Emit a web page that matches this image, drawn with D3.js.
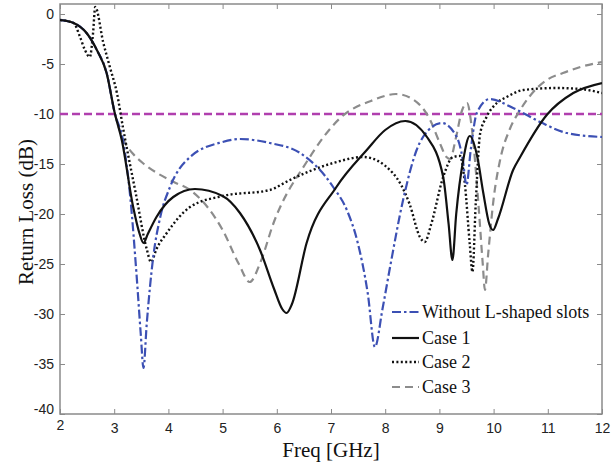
<!DOCTYPE html>
<html><head><meta charset="utf-8">
<script src="https://cdn.jsdelivr.net/npm/d3@7"></script>
<style>body{margin:0;background:#fff}</style>
</head><body><svg id="c" width="612" height="463"></svg>
<script>
const xTicks = [2,3,4,5,6,7,8,9,10,11,12];
const yTicks = [0,-5,-10,-15,-20,-25,-30,-35,-40];
const seriesNames = ["Without L-shaped slots","Case 1","Case 2","Case 3"];
const threshold = -10;

const blueF = [2,2.25,2.49,2.68,2.86,3.01,3.16,3.3,3.41,3.49,3.54,3.6,3.72,3.85,4.03,4.4,5.0,5.32,5.87,6.43,7.04,7.3,7.48,7.68,7.81,7.95,8.09,8.33,8.58,8.8,9.04,9.32,9.43,9.5,9.58,9.69,9.93,10.36,10.86,11.35,12];
const blueV = [-0.6,-0.9,-1.9,-3.6,-5.9,-9.9,-12.6,-18.5,-25.9,-32,-35.4,-31,-24.3,-20.3,-17.3,-14.3,-12.8,-12.5,-12.9,-13.9,-17.3,-19.7,-22.6,-28,-33.3,-29.5,-25.3,-18.6,-13.6,-11.6,-10.9,-12.3,-14.5,-17.1,-13.5,-9.9,-8.5,-9.4,-10.8,-11.9,-12.3];

const case1F = [2,2.25,2.49,2.68,2.86,3.01,3.14,3.35,3.47,3.54,3.62,3.78,4.09,4.49,5.0,5.32,5.69,5.95,6.1,6.18,6.28,6.55,7.1,7.66,8.0,8.37,8.77,9.07,9.17,9.24,9.31,9.44,9.56,9.7,9.81,9.92,9.99,10.08,10.36,10.49,10.98,11.47,12];
const case1V = [-0.6,-0.9,-1.9,-3.6,-5.9,-9.9,-12.6,-19.3,-22,-22.9,-22,-20.3,-18.3,-17.5,-18.2,-19.9,-23.6,-27.5,-29.5,-29.9,-29,-22.9,-17.3,-13.6,-11.6,-10.7,-12.3,-16.3,-21,-24.6,-20,-14.6,-12.2,-14.3,-17.9,-21,-21.6,-20.5,-15.6,-14.3,-10.1,-7.9,-6.9];

const case2F = [2,2.25,2.37,2.46,2.55,2.61,2.65,2.8,2.92,3.05,3.16,3.4,3.6,3.68,3.78,3.97,4.4,5.0,5.87,6.24,7.04,7.6,8.14,8.45,8.64,8.73,8.85,9.07,9.25,9.38,9.47,9.56,9.61,9.67,9.75,9.87,10.06,10.24,10.55,11.16,11.6,12];
const case2V = [-0.6,-0.9,-2.3,-3.6,-4.3,-1.9,0.7,-2.9,-5.3,-7.9,-11.3,-18,-23.5,-24.8,-23.5,-21.9,-19.3,-18.2,-17.6,-16.6,-14.9,-14.3,-15.9,-19,-22.3,-22.8,-21,-16.3,-14.3,-14.2,-17,-23,-25.8,-19,-12,-10.3,-8.9,-8.3,-7.6,-7.4,-7.5,-7.9];

const case3F = [2,2.25,2.49,2.68,2.86,3.01,3.1,3.2,3.35,3.55,3.79,4.1,4.4,5.0,5.3,5.5,5.7,5.94,6.55,7.17,7.78,8.2,8.5,8.83,9.0,9.13,9.2,9.3,9.42,9.51,9.6,9.72,9.8,9.84,9.9,10.0,10.12,10.3,10.49,10.67,10.98,11.28,11.6,12];
const case3V = [-0.6,-0.9,-1.9,-3.6,-5.9,-9.9,-11.6,-12.9,-14.0,-15.0,-15.9,-16.8,-17.6,-21.6,-25,-26.8,-24.8,-20.9,-14.8,-10.4,-8.6,-8.0,-8.5,-10.6,-12.8,-14.3,-14.5,-12.5,-9.6,-8.9,-11.5,-19,-25,-27.6,-24,-18.5,-14.6,-11.5,-9.6,-8.2,-6.6,-5.9,-5.3,-4.8];

const svg = d3.select("#c");
const L = 60, R = 602, T = 4, B = 414;
const x = d3.scaleLinear().domain([2,12]).range([L,R]);
const y = d3.scaleLinear().domain([-40,1]).range([B,T]);

svg.append("defs").append("clipPath").attr("id","clip").append("rect")
  .attr("x",L).attr("y",T).attr("width",R-L).attr("height",B-T);

const frameColor = "#8a8a8a";
const tickFont = "'Liberation Sans', Arial, sans-serif";

const gx = svg.append("g").attr("transform",`translate(0,${B})`)
  .call(d3.axisBottom(x).tickValues(xTicks).tickFormat(d3.format("d")).tickSizeInner(-5).tickSizeOuter(0).tickPadding(8));
const gy = svg.append("g").attr("transform",`translate(${L},0)`)
  .call(d3.axisLeft(y).tickValues(yTicks).tickFormat(d=>String(d)).tickSizeInner(-5).tickSizeOuter(0).tickPadding(6));
const gxt = svg.append("g").attr("transform",`translate(0,${T})`)
  .call(d3.axisTop(x).tickValues(xTicks).tickFormat("").tickSizeInner(-5).tickSizeOuter(0));
const gyr = svg.append("g").attr("transform",`translate(${R},0)`)
  .call(d3.axisRight(y).tickValues(yTicks).tickFormat("").tickSizeInner(-5).tickSizeOuter(0));
[gx,gy,gxt,gyr].forEach(g=>{
  g.select(".domain").remove();
  g.selectAll(".tick line").attr("stroke",frameColor);
  g.selectAll("text").attr("font-family",tickFont).attr("font-size",14).attr("fill","#222");
});
gy.selectAll(".tick").filter(d=>d===-40).select("text").attr("dy","-0.05em");
gx.selectAll("text").attr("dy","0.78em");
gx.selectAll(".tick").filter(d=>d===2).select("text").attr("dy","0.55em");

svg.append("rect").attr("x",L).attr("y",T).attr("width",R-L).attr("height",B-T)
  .attr("fill","none").attr("stroke",frameColor).attr("stroke-width",1.5);

const plot = svg.append("g").attr("clip-path","url(#clip)");
const line = d3.line().x(d=>x(d[0])).y(d=>y(d[1])).curve(d3.curveMonotoneX);
const styles = [
  {f:blueF, v:blueV, color:"#3c50b4", w:2.2, dash:"9,3,2.5,3"},
  {f:case1F, v:case1V, color:"#111", w:2.2, dash:null},
  {f:case2F, v:case2V, color:"#111", w:2.4, dash:"2,2.4"},
  {f:case3F, v:case3V, color:"#8c8c8c", w:2.2, dash:"8,5"}
];
plot.append("line").attr("x1",x(2)).attr("x2",x(12)).attr("y1",y(threshold)).attr("y2",y(threshold))
  .attr("stroke","#b03fae").attr("stroke-width",2.4).attr("stroke-dasharray","8,4");

[3,2,0,1].forEach(i=>{
  const s = styles[i];
  const data = s.f.map((f,j)=>[f,s.v[j]]);
  plot.append("path").datum(data).attr("d",line).attr("fill","none")
    .attr("stroke",s.color).attr("stroke-width",s.w)
    .attr("stroke-dasharray",s.dash).attr("stroke-linejoin","round");
});

const lg = svg.append("g");
const rowsY = [312,338,362,387];
seriesNames.forEach((name,i)=>{
  const s = styles[i];
  lg.append("line").attr("x1",392).attr("x2",419).attr("y1",rowsY[i]).attr("y2",rowsY[i])
    .attr("stroke",s.color).attr("stroke-width",s.w).attr("stroke-dasharray",s.dash);
  lg.append("text").attr("x",422).attr("y",rowsY[i]+6).text(name)
    .attr("font-family","'Liberation Serif','Times New Roman',serif").attr("font-size",18).attr("fill","#111");
});

svg.append("text").attr("x",331).attr("y",457).attr("text-anchor","middle")
  .attr("font-family","'Liberation Serif','Times New Roman',serif").attr("font-size",21).attr("fill","#111")
  .text("Freq [GHz]");
svg.append("text").attr("transform","translate(33,212) rotate(-90)").attr("text-anchor","middle")
  .attr("font-family","'Liberation Serif','Times New Roman',serif").attr("font-size",21).attr("fill","#111")
  .text("Return Loss (dB)");
</script></body></html>
